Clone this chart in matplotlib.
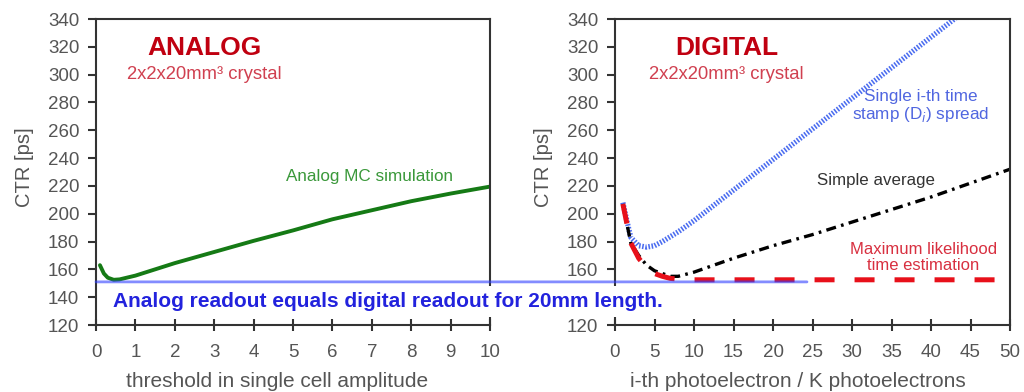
import numpy as np
import matplotlib.pyplot as plt
from matplotlib.patches import ConnectionPatch

plt.rcParams['font.family'] = ['Liberation Sans', 'DejaVu Sans']

# Analog : MC simulation, CTR vs seuil
analog_thr = [0.1, 0.2, 0.3, 0.45, 0.6, 1, 1.5, 2, 3, 4, 5, 6, 7, 8, 9, 10]
analog_ctr = [163, 157, 154, 152.5, 152.8, 155.5, 160, 164.5, 172.5, 180.5, 188, 196, 202.5, 209, 214.5, 219.5]

# Digital : CTR vs i-th photoelectron
single_k = [1, 1.5, 2, 3, 4, 5, 6, 8, 10, 15, 20, 25, 30, 35, 40, 45]
single_ctr = [208, 195, 183, 177, 176, 177, 180, 187, 195, 217, 239, 261, 283, 305, 327, 349]

avg_k = [1, 2, 3, 4, 5, 6, 7, 8, 10, 15, 20, 25, 30, 35, 40, 45, 50]
avg_ctr = [207, 179, 170, 163, 159, 157, 155, 155, 158, 168, 177, 185, 194, 203, 212, 222, 232]

ml_k = [1, 2, 3, 4, 5, 6, 7, 8, 10, 20, 30, 40, 50]
ml_ctr = [207, 179, 168, 161, 157, 155, 153.5, 153, 152.5, 152.5, 152.5, 152.5, 152.5]

equal_ctr = 151
equal_k_end = 24.3

y_ticks = list(range(120, 341, 20))
# sur le panneau digital, le label 140 est caché par le texte bleu
y_labels_digital = ['' if v == 140 else str(v) for v in y_ticks]

grey = '#555555'

fig = plt.figure(figsize=(10.24, 3.92), dpi=100)
ax1 = fig.add_axes([96 / 1024, 1 - 325 / 392, 394 / 1024, 306 / 392])
ax2 = fig.add_axes([615 / 1024, 1 - 325 / 392, 395 / 1024, 306 / 392])

for ax in (ax1, ax2):
    ax.set_ylim(120, 340)
    ax.set_yticks(y_ticks)
    for s in ax.spines.values():
        s.set_color('#333333')
        s.set_linewidth(1.5)
    ax.tick_params(axis='y', direction='out', length=6, width=1.5, color='#333333',
                   labelsize=13.5, labelcolor=grey, pad=6)
    ax.tick_params(axis='x', direction='inout', length=8, width=1.5, color='#333333',
                   labelsize=13.5, labelcolor=grey, pad=10)
    ax.set_ylabel('CTR [ps]', fontsize=14.5, color=grey)
    ax.yaxis.label.set_va('center')
    ax.yaxis.set_label_coords(-0.182, 0.516)

ax2.set_yticklabels(y_labels_digital)

# ANALOG
ax1.set_xlim(0, 10)
ax1.set_xticks(range(0, 11))
ax1.plot(analog_thr, analog_ctr, color='#157a15', lw=2.8, solid_capstyle='round')
ax1.set_xlabel('threshold in single cell amplitude', fontsize=15, color=grey)
ax1.xaxis.label.set_va('center')
ax1.xaxis.set_label_coords(0.46, -0.186)
ax1.text(0.275, 0.905, 'ANALOG', transform=ax1.transAxes, ha='center', va='center',
         fontsize=19, fontweight='bold', color='#c00010')
ax1.text(0.275, 0.82, '2x2x20mm³ crystal', transform=ax1.transAxes, ha='center', va='center',
         fontsize=13.3, color='#d04050')
ax1.text(6.95, 227, 'Analog MC simulation', ha='center', va='center', fontsize=12.3, color='#3a983a')

# DIGITAL
ax2.set_xlim(0, 50)
ax2.set_xticks(range(0, 51, 5))
ax2.plot(single_k, single_ctr, color='#4a6cf0', lw=3.8, linestyle=(0, (0.3, 0.3)))
ax2.plot(avg_k, avg_ctr, color='black', lw=2.4, linestyle=(0, (3, 1.6, 0.8, 1.6)))
ax2.plot(ml_k, ml_ctr, color='#e8101a', lw=3.6, linestyle=(0, (4, 4)))
ax2.set_xlabel('i-th photoelectron / K photoelectrons', fontsize=15, color=grey)
ax2.xaxis.label.set_va('center')
ax2.xaxis.set_label_coords(0.463, -0.186)
ax2.text(0.282, 0.905, 'DIGITAL', transform=ax2.transAxes, ha='center', va='center',
         fontsize=19, fontweight='bold', color='#c00010')
ax2.text(0.282, 0.82, '2x2x20mm³ crystal', transform=ax2.transAxes, ha='center', va='center',
         fontsize=13.3, color='#d04050')
ax2.text(38.7, 277, 'Single i-th time\nstamp (D$_i$) spread', ha='center', va='center',
         fontsize=12.3, color='#5066e0', linespacing=1.1)
ax2.text(33, 224, 'Simple average', ha='center', va='center', fontsize=12.2, color='#333333')
ax2.text(39, 168.5, 'Maximum likelihood\ntime estimation', ha='center', va='center',
         fontsize=12, color='#d83040', linespacing=1.1)

# Ligne commune analog = digital
line = ConnectionPatch(xyA=(0, equal_ctr), coordsA=ax1.transData,
                       xyB=(equal_k_end, equal_ctr), coordsB=ax2.transData,
                       color='#3040ff', alpha=0.6, lw=2, zorder=1)
fig.add_artist(line)
fig.text(113 / 1024, 1 - 301.7 / 392, 'Analog readout equals digital readout for 20mm length.',
         ha='left', va='center', fontsize=15, fontweight='bold', color='#2222dd', zorder=5,
         bbox=dict(boxstyle='square,pad=0.3', facecolor='white', edgecolor='none'))

fig.savefig('out.png', dpi=100)
